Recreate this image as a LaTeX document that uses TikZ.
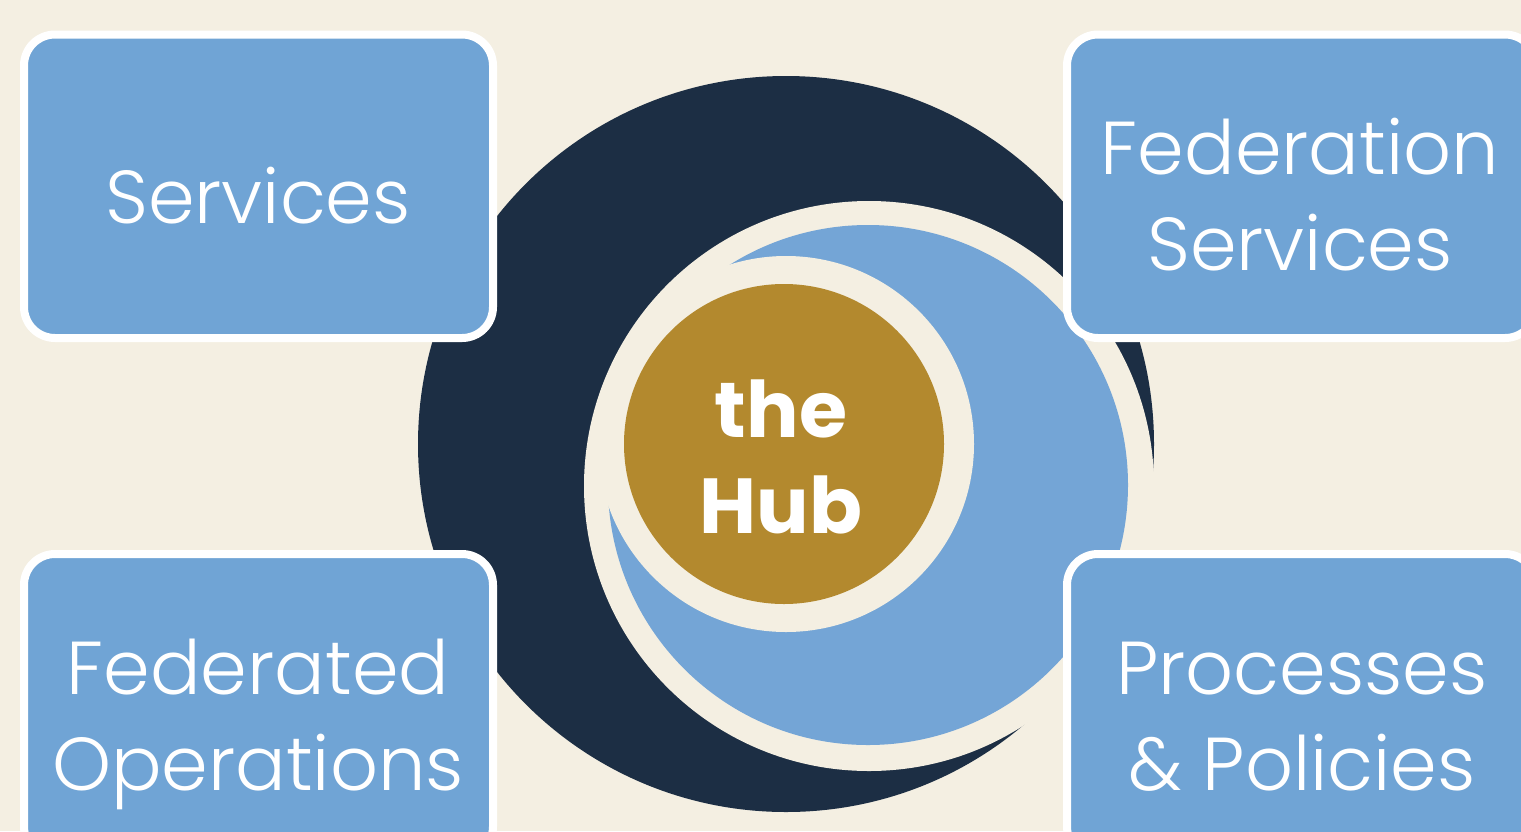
\documentclass[tikz,border=0pt]{standalone}
\usepackage{fontspec}
\setmainfont{Poppins}
\newfontfamily\lightfont{Poppins Light}
\usetikzlibrary{positioning}
\definecolor{cream}{RGB}{244,239,226}
\definecolor{navy}{RGB}{28,46,68}
\definecolor{tileblue}{RGB}{112,164,213}
\definecolor{ringblue}{RGB}{116,165,214}
\definecolor{gold}{RGB}{179,137,46}
\tikzset{
	tile/.style={% rounded boxes in the corners
		draw=white, fill=tileblue,
		line width=8pt,
		rounded corners=31pt,
		minimum width=469pt,
		minimum height=303.5pt,
		inner sep=0pt, outer sep=0pt
	},
	tiletext/.style={
		text=white, align=center, anchor=base,
		font=\lightfont\fontsize{75}{96}\selectfont
	},
	disc/.style={
		shape=circle,
		inner sep=0pt, outer sep=0pt
	}
}
\begin{document}
\begin{tikzpicture}[x=1pt,y=-1pt,
                        hubtext/.style={
                        text=white, align=center, anchor=base,
                        font=\bfseries\fontsize{78}{96}\selectfont}]
                        \useasboundingbox (0,0) rectangle (1521,831);
                        \fill[cream] (0,0) rectangle (1521,831);
                        \clip (0,0) rectangle (1521,831);
                        % rings round the hub
                        \node [disc, fill=navy, minimum size=736pt] (navyring) at (786,444) {};
                        \node [disc, fill=cream, minimum size=570pt] (cut) at (869,486) {};
                        \node [disc, fill=ringblue, minimum size=520pt] (bluering) at (868,485) {};
                        \node [disc, fill=cream, minimum size=376pt] (gap) at (786,444) {};
                        \node [disc, fill=gold, minimum size=320pt] (hub) at (784,444) {};
                        % base anchor sits on the last line
                        \node [hubtext] (hublabel) at (781,533) {the\\Hub};
                        % boxes
                        \node [tile] (services) at (258.5,186.25) {};
                        \node [tile] (fedservices) at (1301.5,186.25) {};
                        \node [tile] (fedops) at (258.5,705.75) {};
                        \node [tile] (processes) at (1301.5,705.75) {};
                        \node [tiletext] (serviceslabel) at (258,223) {Services};
                        \node [tiletext] (fedserviceslabel) at (1300,270) {Federation\\Services};
                        \node [tiletext] (fedopslabel) at (258,790) {Federated\\Operations};
                        \node [tiletext] (processeslabel) at (1302,790) {Processes\\\& Policies};
                \end{tikzpicture}
\end{document}
